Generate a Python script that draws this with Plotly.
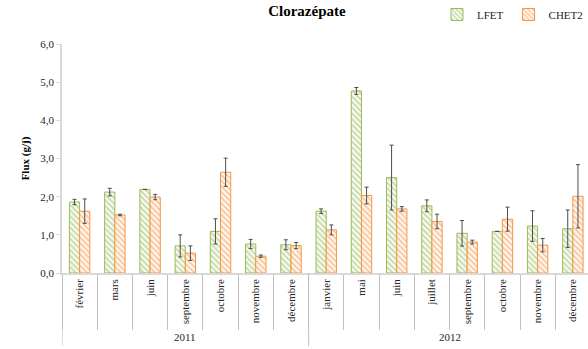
import plotly.graph_objects as go

# Sampling campaigns: year and month of each
years = ["2011"] * 7 + ["2012"] * 8
months = ["février", "mars", "juin", "septembre", "octobre", "novembre", "décembre",
          "janvier", "mai", "juin", "juillet", "septembre", "octobre", "novembre", "décembre"]

# Mean clorazépate flux (g/j) and standard deviations per site
lfet = [1.86, 2.12, 2.19, 0.71, 1.09, 0.76, 0.74, 1.62, 4.77, 2.50, 1.76, 1.04, 1.09, 1.23, 1.16]
lfet_sd = [0.07, 0.10, 0.0, 0.29, 0.33, 0.12, 0.13, 0.06, 0.09, 0.85, 0.155, 0.335, 0.0, 0.40, 0.49]
chet2 = [1.62, 1.52, 1.99, 0.52, 2.64, 0.44, 0.72, 1.13, 2.03, 1.68, 1.35, 0.81, 1.41, 0.73, 2.01]
chet2_sd = [0.32, 0.02, 0.07, 0.19, 0.37, 0.03, 0.08, 0.13, 0.22, 0.06, 0.19, 0.05, 0.315, 0.175, 0.83]

GREEN = "#9BBB59"
ORANGE = "#F79646"
SERIF = "Liberation Serif"
SEP = "#BFBFBF"
AXIS = "#D9D9D9"

# unique category keys (the same month occurs in both years)
keys = [f"{y} {m}" for y, m in zip(years, months)]

fig = go.Figure()
for name, vals, sd, col in [("LFET", lfet, lfet_sd, GREEN), ("CHET2", chet2, chet2_sd, ORANGE)]:
    fig.add_trace(go.Bar(
        name=name, x=keys, y=vals,
        marker=dict(color="white",
                    line=dict(color=col, width=1),
                    pattern=dict(shape="\\", fgcolor=col, bgcolor="white", size=4, solidity=0.55)),
        error_y=dict(type="data", array=sd, visible=True, color="#4D4D4D", thickness=1, width=2),
    ))

W, H, L, T, B = 588, 349, 62, 29, 76
plot_h = H - T - B
plot_w = W - L

# year labels centred under each group, with dividers between groups
groups = []
for y in dict.fromkeys(years):
    idx = [i for i, v in enumerate(years) if v == y]
    groups.append((y, idx[0], idx[-1]))

annotations = []
shapes = []
for y, i0, i1 in groups:
    annotations.append(dict(x=(i0 + i1) / 2, y=-(341 - (H - B)) / plot_h,
                            xref="x", yref="paper", text=y, showarrow=False,
                            yanchor="middle", font=dict(family=SERIF, size=11, color="#262626")))
    shapes.append(dict(type="line", xref="x", yref="paper", x0=i0 - 0.5, x1=i0 - 0.5,
                       y0=0, y1=-(B + 2) / plot_h, line=dict(color=SEP, width=1)))

fig.update_layout(
    width=W, height=H,
    margin=dict(l=L, r=0, t=T, b=B),
    paper_bgcolor="white", plot_bgcolor="white",
    barmode="group", bargap=0.42, bargroupgap=0,
    separators=", ",
    font=dict(family=SERIF, size=11, color="#262626"),
    title=dict(text="<b>Clorazépate</b>", x=0.522, xref="container", xanchor="center",
               y=0.968, yref="container", yanchor="middle",
               font=dict(family=SERIF, size=15, color="#000000")),
    legend=dict(orientation="h", x=1.0, xanchor="right", y=1.13, yanchor="middle",
                font=dict(family=SERIF, size=11), itemwidth=30,
                bgcolor="rgba(0,0,0,0)"),
    showlegend=True,
    annotations=annotations,
    shapes=shapes,
)

fig.update_yaxes(
    range=[0, 6], dtick=1, tickformat=".1f",
    showgrid=False, zeroline=False,
    showline=True, linecolor=AXIS, linewidth=1.5,
    ticks="outside", ticklen=4, tickcolor=AXIS,
    tickfont=dict(family=SERIF, size=11, color="#262626"),
    title=dict(text="<b>Flux (g/j)</b>", font=dict(family=SERIF, size=11, color="#000000"), standoff=8),
)

fig.update_xaxes(
    type="category",
    range=[-0.5, 14.43],
    tickmode="array", tickvals=keys, ticktext=months,
    showgrid=False, zeroline=False,
    showline=True, linecolor=AXIS, linewidth=1.5,
    ticks="outside", tickson="boundaries", ticklen=55, tickcolor=SEP,
    tickangle=-90,
    tickfont=dict(family=SERIF, size=11, color="#262626"),
)

fig.write_html("out.html")
